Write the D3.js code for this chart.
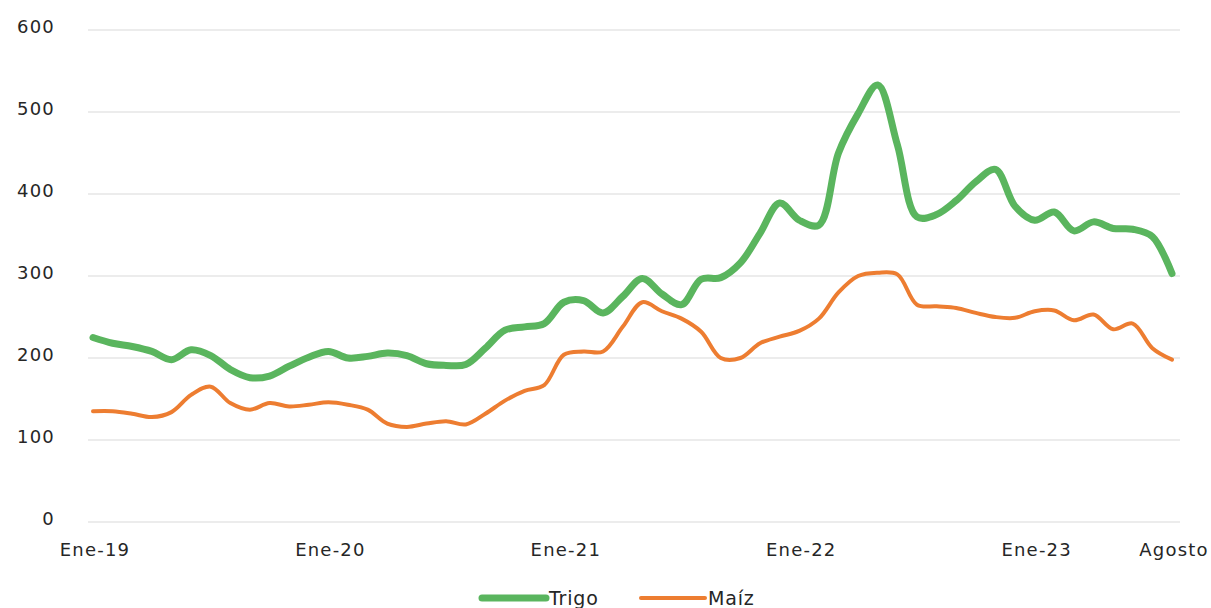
<!DOCTYPE html>
<html lang="es">
<head>
<meta charset="UTF-8">
<title>Trigo y Maíz</title>
<script src="https://d3js.org/d3.v7.min.js"></script>
<style>
  body { margin: 0; background: #fff; }
  svg { display: block; font-family: "DejaVu Sans", "Noto Sans", sans-serif; }
  .grid line { stroke: #d9d9d9; stroke-width: 1px; }
  .axis text { fill: #262626; font-size: 18px; letter-spacing: 1.2px; }
  .trigo { fill: none; stroke: #5ab55e; stroke-width: 7px; stroke-linejoin: round; stroke-linecap: round; }
  .maiz { fill: none; stroke: #ed7d31; stroke-width: 4px; stroke-linejoin: round; stroke-linecap: round; }
  .legend text { fill: #262626; font-size: 19px; letter-spacing: 0.8px; }
</style>
</head>
<body>
<svg width="1211" height="608"></svg>
<script>
// monthly values, Ene-19 .. Ago-23
var trigo = [225, 218, 214, 208, 198, 210, 203, 186, 176, 178, 190, 201,
             208, 200, 202, 206, 203, 193, 191, 192, 212, 234, 238, 242,
             268, 270, 255, 275, 297, 278, 265, 296, 298, 316, 352, 389,
             368, 362, 450, 498, 533, 460, 372, 375, 392, 415, 430, 385,
             368, 378, 355, 366, 358, 357, 348, 303];
var maiz = [135, 135, 132, 128, 134, 155, 165, 145, 137, 145, 141, 143,
            146, 143, 137, 120, 116, 120, 123, 119, 132, 148, 160, 167,
            204, 208, 208, 238, 268, 257, 248, 232, 200, 200, 218, 226,
            233, 248, 280, 300, 304, 302, 265, 263, 261, 255, 250, 249,
            257, 258, 246, 253, 235, 242, 212, 198];
var xTicks = [[0, "Ene-19"], [12, "Ene-20"], [24, "Ene-21"], [36, "Ene-22"], [48, "Ene-23"], [55, "Agosto"]];
var yTicks = [0, 100, 200, 300, 400, 500, 600];
var series = [{name: "Trigo", cls: "trigo", values: trigo},
              {name: "Maíz", cls: "maiz", values: maiz}];

var svg = d3.select("svg");

var x = d3.scaleLinear().domain([0, trigo.length - 1]).range([93, 1172]);
var y = d3.scaleLinear().domain([0, 600]).range([522, 30]);

// gridlines
svg.append("g")
    .attr("class", "grid")
  .selectAll("line")
  .data(yTicks)
  .enter().append("line")
    .attr("x1", 88).attr("x2", 1180)
    .attr("y1", function(d){ return y(d); })
    .attr("y2", function(d){ return y(d); });

// y labels
svg.append("g")
    .attr("class", "axis")
  .selectAll("text")
  .data(yTicks)
  .enter().append("text")
    .attr("x", 55)
    .attr("y", function(d){ return y(d) - 3; })
    .attr("dy", "0.35em")
    .attr("text-anchor", "end")
    .text(function(d){ return d; });

// x labels
svg.append("g")
    .attr("class", "axis")
  .selectAll("text")
  .data(xTicks)
  .enter().append("text")
    .attr("x", function(d){ return x(d[0]) + 2; })
    .attr("y", 550)
    .attr("dy", "0.35em")
    .attr("text-anchor", "middle")
    .text(function(d){ return d[1]; });

var line = d3.line()
    .x(function(d, i){ return x(i); })
    .y(function(d){ return y(d); })
    .curve(d3.curveCatmullRom.alpha(0.5));

svg.selectAll("path.series")
  .data(series)
  .enter().append("path")
    .attr("class", function(d){ return d.cls; })
    .attr("d", function(d){ return line(d.values); });

// legend
var legend = svg.append("g").attr("class", "legend");
var lx = [482, 641];
series.forEach(function(s, i){
    legend.append("line")
        .attr("class", s.cls)
        .attr("x1", lx[i]).attr("x2", lx[i] + 64)
        .attr("y1", 598).attr("y2", 598);
    legend.append("text")
        .attr("x", lx[i] + 67)
        .attr("y", 598)
        .attr("dy", "0.35em")
        .text(s.name);
});
</script>
</body>
</html>
